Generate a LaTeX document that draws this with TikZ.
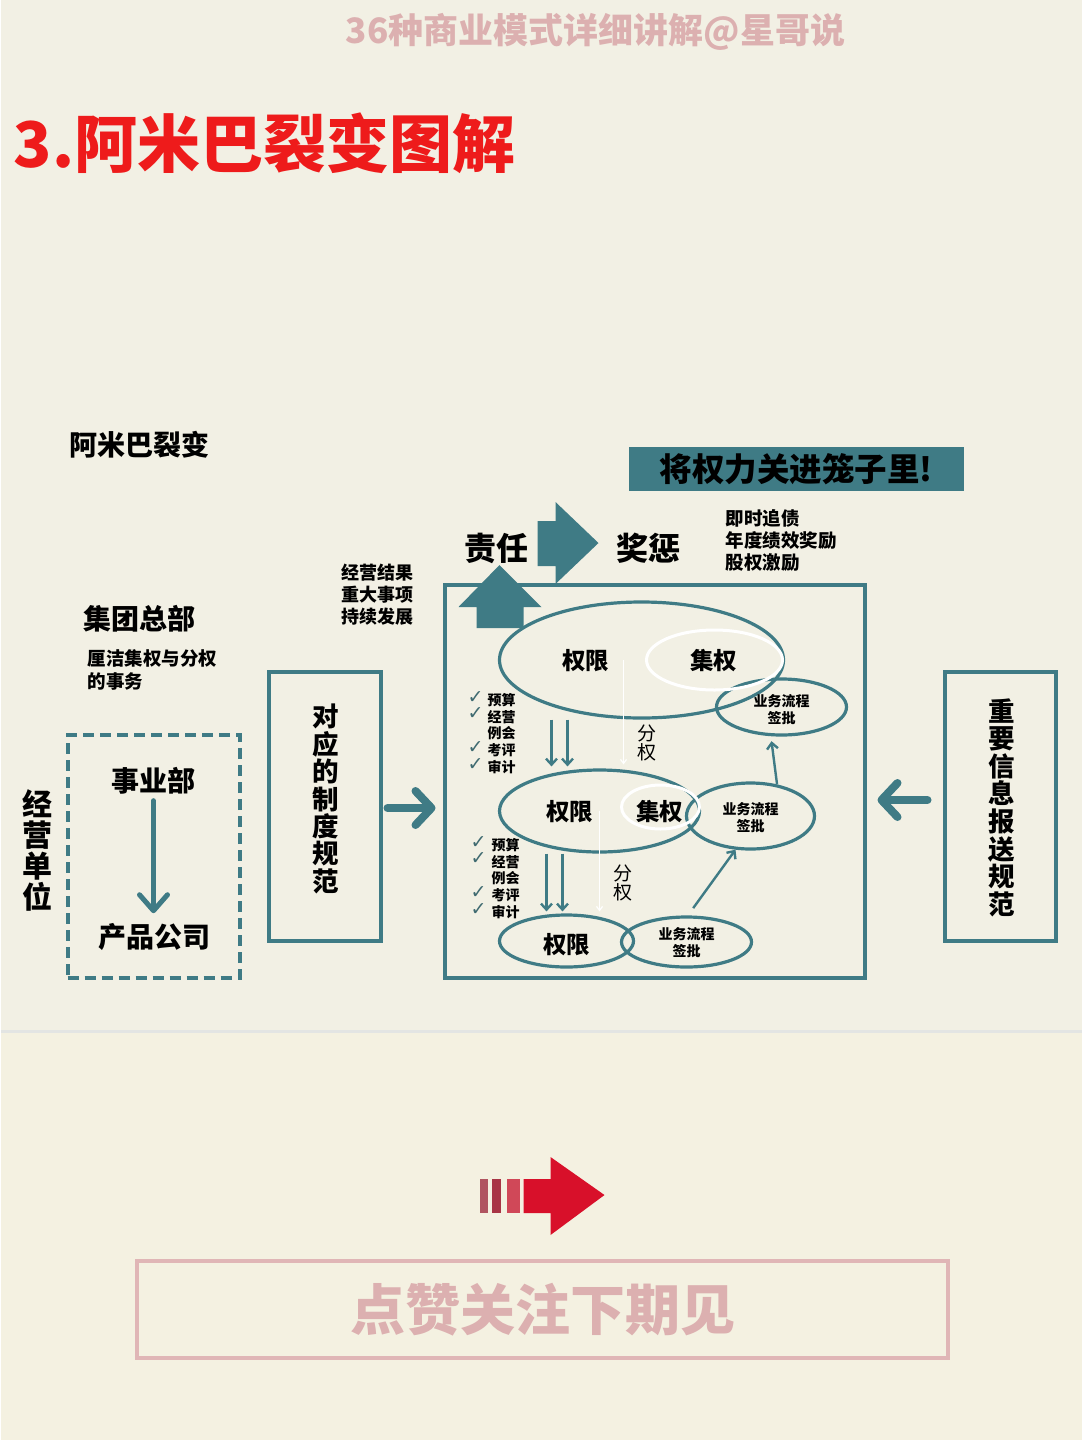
\documentclass[tikz,border=0pt]{standalone}
\usepackage{fontspec}
\setmainfont{Noto Sans CJK SC}
\newfontfamily\dejavu{DejaVu Sans}
\usetikzlibrary{shapes.geometric,arrows.meta}
\definecolor{bgA}{HTML}{F2F0E4}
\definecolor{bgB}{HTML}{F4F1E1}
\definecolor{seam}{HTML}{E3E5E3}
\definecolor{tl}{HTML}{3F7B85}
\definecolor{ckcol}{HTML}{3F6A70}
\definecolor{pinkw}{HTML}{DCB0B0}
\definecolor{pinkb}{HTML}{E0B6B6}
\definecolor{titlered}{HTML}{EE1B1B}
\definecolor{arrred}{HTML}{D8102A}
\definecolor{barA}{HTML}{B05560}
\definecolor{barB}{HTML}{A83545}
\definecolor{barC}{HTML}{D04858}
\newcommand\ckm{{\dejavu\mdseries ✓}}
\begin{document}
\begin{tikzpicture}[x=1pt,y=-1pt,
  txt/.style={inner sep=0pt, text=black},
  fz/.style={font=\fontsize{#1}{#1}\selectfont\bfseries},
  fzl/.style 2 args={font=\fontsize{#1}{#2}\selectfont\bfseries},
  boxv/.style={draw=tl, line width=4pt, inner sep=0pt},
  ell/.style={ellipse, draw=tl, line width=3.2pt, inner sep=0pt},
  well/.style={ellipse, draw=white, line width=3pt, inner sep=0pt},
  bigarr/.style={draw=tl, line width=8pt, line cap=round, -{Straight Barb[round, length=16pt, width=34pt]}},
  midarr/.style={draw=tl, line width=5pt, line cap=round, -{Straight Barb[round, length=16pt, width=28pt]}},
  smarr/.style={draw=tl, line width=2.4pt, -{Straight Barb[length=6pt, width=11pt]}},
  warr/.style={draw=white, line width=1.2pt, -{Straight Barb[length=4pt, width=6pt]}}
]
% background
\fill[bgA] (0,0) rectangle (1080,1031);
\fill[bgB] (0,1031) rectangle (1080,1440);
\draw[seam, line width=3pt] (0,1031.5) -- (1080,1031.5);
\useasboundingbox (0,0) rectangle (1080,1440);

% header
\node[txt, text=pinkw, fz=35] (wm) at (594,32) {36种商业模式详细讲解@星哥说};
\node[txt, anchor=west, text=titlered, fz=63] (title) at (12,143) {3.阿米巴裂变图解};
\node[txt, anchor=west, fz=28] (amb) at (68,445) {阿米巴裂变};

% banner
\node[fill=tl, minimum width=335pt, minimum height=44pt, inner sep=0pt, fz=32.5] (banner) at (794.5,469) {将权力关进笼子里!};

% responsibility / reward
\node[txt, anchor=west, fz=32] (zeren) at (463,548) {责任};
\node[txt, anchor=west, fz=32] (jiangcheng) at (615,548) {奖惩};
\node[txt, anchor=west, align=left, fzl={18.5}{22}] (jclist) at (724,540) {即时追债\\年度绩效奖励\\股权激励};
\fill[tl] (536,521) -- (554,521) -- (554,502) -- (597,543) -- (554,584) -- (554,566) -- (536,566) -- cycle;

% main box
\node[boxv, minimum width=420pt, minimum height=393pt] (main) at (653,781.5) {};
\fill[tl] (475,628) -- (475,607) -- (457,607) -- (498,565) -- (540,607) -- (522,607) -- (522,628) -- cycle;

% level 1
\node[ell, minimum width=284pt, minimum height=116pt] (e1) at (640,660) {};
\node[ell, minimum width=130pt, minimum height=56pt] (p1) at (780,707) {};
\node[well, minimum width=136pt, minimum height=60pt] (w1) at (713,660) {};
\node[txt, fz=23.5] (q1) at (584,661) {权限};
\node[txt, fz=23.5] (j1) at (712,661) {集权};
\node[txt, align=center, fzl={14}{17}] (b1) at (780,710) {业务流程\\签批};

% level 2
\node[ell, minimum width=200pt, minimum height=82pt] (e2) at (598,811) {};
\node[ell, minimum width=128pt, minimum height=66pt] (p2) at (749,816) {};
\node[well, minimum width=78pt, minimum height=44pt] (w2) at (659,807) {};
\node[txt, fz=23.5] (q2) at (568,812) {权限};
\node[txt, fz=23.5] (j2) at (658,812) {集权};
\node[txt, align=center, fzl={14}{17}] (b2) at (749,818) {业务流程\\签批};

% level 3
\node[ell, minimum width=134pt, minimum height=52pt] (e3) at (565,941) {};
\node[ell, minimum width=130pt, minimum height=50pt] (p3) at (685,942) {};
\node[txt, fz=23.5] (q3) at (565,945) {权限};
\node[txt, align=center, fzl={14}{17}] (b3) at (685,943) {业务流程\\签批};

% connectors inside
\draw[smarr, shorten >=2pt] ([xshift=-90pt]e1.south) -- ([xshift=-48pt]e2.north);
\draw[smarr, shorten >=2pt] ([xshift=-74pt]e1.south) -- ([xshift=-32pt]e2.north);
\draw[smarr, shorten >=2pt] ([xshift=-53pt]e2.south) -- ([xshift=-20pt]e3.north);
\draw[smarr, shorten >=2pt] ([xshift=-37pt]e2.south) -- ([xshift=-4pt]e3.north);
\draw[smarr, shorten >=5pt] (p2.50) -- (p1.-110);
\draw[smarr, shorten <=9pt] (p3.87) -- (p2.-114);
\draw[warr, shorten >=4pt] ([xshift=-18pt]e1.center) -- ([xshift=24pt]e2.north);
\draw[warr, shorten >=2pt] (e2.center) -- ([xshift=33pt]e3.north);
\node[txt, align=center, font=\fontsize{19}{19}\selectfont] (fq1) at (645,743) {分\\权};
\node[txt, align=center, font=\fontsize{19}{19}\selectfont] (fq2) at (621,883) {分\\权};

% check lists
\node[txt, anchor=north west, align=left, fzl={14}{16.8}] (cl1t) at (486,693) {预算\\经营\\例会\\考评\\审计};
\node[txt, anchor=north west, align=left, text=ckcol, font=\fontsize{19}{16.8}\selectfont] (cl1c) at (466,691) {\ckm\\\ckm\\\mbox{}\\\ckm\\\ckm};
\node[txt, anchor=north west, align=left, fzl={14}{16.8}] (cl2t) at (490,838) {预算\\经营\\例会\\考评\\审计};
\node[txt, anchor=north west, align=left, text=ckcol, font=\fontsize{19}{16.8}\selectfont] (cl2c) at (469,836) {\ckm\\\ckm\\\mbox{}\\\ckm\\\ckm};

% left side
\node[txt, anchor=west, fz=28] (jtzb) at (82,619) {集团总部};
\node[txt, anchor=west, align=left, fzl={18.5}{23}] (lj) at (86,669.5) {厘洁集权与分权\\的事务};
\node[txt, anchor=west, align=left, fzl={18}{22}] (jyjg) at (340,595) {经营结果\\重大事项\\持续发展};

\node[draw=tl, line width=4pt, dash pattern=on 11pt off 6pt, inner sep=0pt, minimum width=172pt, minimum height=243pt] (jydw) at (152,856.5) {};
\node[txt, fz=28] (syb) at (152,781) {事业部};
\node[txt, fz=28] (cpgs) at (153,937) {产品公司};
\draw[midarr, shorten <=6pt, shorten >=10pt] (syb.south) -- (syb.south |- cpgs.north);
\node[txt, align=center, fzl={30}{31}] (jydwl) at (36,850) {经\\营\\单\\位};

\node[boxv, minimum width=112pt, minimum height=269pt] (dy) at (323,806.5) {};
\node[txt, align=center, fzl={26.5}{27.4}] (dyt) at (324,799) {对\\应\\的\\制\\度\\规\\范};
\draw[bigarr, shorten <=5pt, shorten >=7pt] ([yshift=-1.5pt]dy.east) -- ([yshift=-1.5pt]dy.east -| main.west);

% right side
\node[boxv, minimum width=111pt, minimum height=269pt] (zy) at (998.5,806.5) {};
\node[txt, align=center, fzl={26.5}{27.6}] (zyt) at (1000,807.5) {重\\要\\信\\息\\报\\送\\规\\范};
\draw[bigarr, shorten <=15pt, shorten >=11pt] ([yshift=6.5pt]zy.west) -- ([yshift=6.5pt]zy.west -| main.east);

% bottom
\fill[barA] (478,1179) rectangle (486,1213);
\fill[barB] (490,1179) rectangle (499,1213);
\fill[barC] (505,1179) rectangle (518,1213);
\fill[arrred] (522,1179) -- (549,1179) -- (549,1157) -- (603,1195) -- (549,1235) -- (549,1213) -- (522,1213) -- cycle;
\node[draw=pinkb, line width=4pt, inner sep=0pt, minimum width=811pt, minimum height=97pt] (follow) at (540.5,1309.5) {};
\node[txt, text=pinkw, fz=55] (followt) at (541,1310) {点赞关注下期见};
\end{tikzpicture}
\end{document}
